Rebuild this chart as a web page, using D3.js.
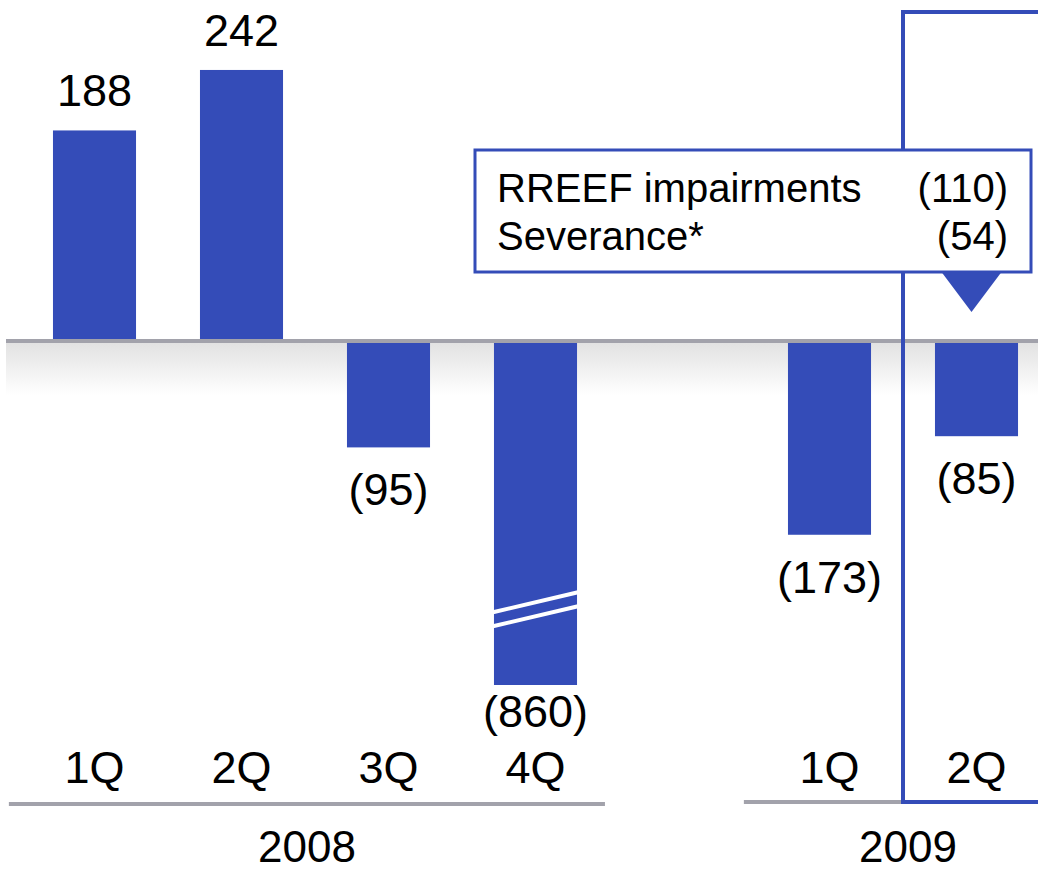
<!DOCTYPE html>
<html>
<head>
<meta charset="utf-8">
<script src="https://cdn.jsdelivr.net/npm/d3@7"></script>
<style>
  body { margin: 0; background: #fff; }
  svg text { font-family: "Liberation Sans", Arial, sans-serif; fill: #000; }
</style>
</head>
<body>
<svg width="1038" height="870"></svg>
<script>
// quarterly values (EUR m), brackets = negative
var quarters = ['1Q', '2Q', '3Q', '4Q', '1Q', '2Q'];
var years = ['2008', '2008', '2008', '2008', '2009', '2009'];
var values = [188, 242, -95, -860, -173, -85];
var yearLabels = ['2008', '2009'];
var noteLabels = ['RREEF impairments', 'Severance*'];
var noteValues = [-110, -54];

var blue = '#344cb8';
var grey = '#a2a2ab';

var svg = d3.select('svg');
var svgWidth = +svg.attr('width');

// one key per bar, plus an empty slot between the two years
var keys = quarters.map(function(q, i) { return years[i] + ' ' + q; });
var slots = keys.slice(0, 4).concat(['gap']).concat(keys.slice(4));

var x = d3.scaleBand()
    .domain(slots)
    .range([21, 1050])
    .paddingInner(0.435)
    .paddingOuter(0.2175);

// broken axis: below -200 the scale is squeezed so 4Q fits
var y = d3.scaleLinear()
    .domain([-860, -200, 300])
    .range([685, 565, 5]);

var fmt = function(v) { return v < 0 ? '(' + Math.abs(v) + ')' : '' + v; };

var data = values.map(function(v, i) {
    return {key: keys[i], q: quarters[i], year: years[i], value: v};
});

// soft shadow under the zero line
var defs = svg.append('defs');
var grad = defs.append('linearGradient')
    .attr('id', 'shade').attr('x1', 0).attr('y1', 0).attr('x2', 0).attr('y2', 1);
grad.append('stop').attr('offset', '0%').attr('stop-color', '#e2e2e2');
grad.append('stop').attr('offset', '100%').attr('stop-color', '#ffffff');

svg.append('rect')
    .attr('x', 6).attr('y', y(0) + 2)
    .attr('width', svgWidth - 6).attr('height', 52)
    .attr('fill', 'url(#shade)');

// bars
svg.selectAll('.bar')
    .data(data)
    .enter()
    .append('rect')
    .attr('class', 'bar')
    .attr('x', function(d) { return x(d.key); })
    .attr('width', x.bandwidth())
    .attr('y', function(d) { return d.value > 0 ? y(d.value) : y(0) + 2; })
    .attr('height', function(d) {
        return d.value > 0 ? y(0) - 1 - y(d.value) : y(d.value) - y(0) - 2;
    })
    .attr('fill', blue);

// break marks on the squeezed bar
var broken = data.filter(function(d) { return d.value < -200; });
broken.forEach(function(d) {
    var yb = y(0) + 0.78 * (y(d.value) - y(0));
    [-7, 7].forEach(function(off) {
        svg.append('line')
            .attr('x1', x(d.key) - 1).attr('y1', yb + off + 10)
            .attr('x2', x(d.key) + x.bandwidth() + 1).attr('y2', yb + off - 10)
            .attr('stroke', '#fff').attr('stroke-width', 4);
    });
});

// zero line
svg.append('line')
    .attr('x1', 6).attr('x2', svgWidth)
    .attr('y1', y(0)).attr('y2', y(0))
    .attr('stroke', grey).attr('stroke-width', 4);

// value labels
var catBase = 783;
svg.selectAll('.val')
    .data(data)
    .enter()
    .append('text')
    .attr('class', 'val')
    .attr('x', function(d) { return x(d.key) + x.bandwidth() / 2; })
    .attr('y', function(d) {
        return d.value > 0 ? y(d.value) - 24 : Math.min(y(d.value) + 58, catBase - 56);
    })
    .attr('text-anchor', 'middle')
    .style('font-size', '45px')
    .text(function(d) { return fmt(d.value); });

// quarter labels
svg.selectAll('.cat')
    .data(data)
    .enter()
    .append('text')
    .attr('class', 'cat')
    .attr('x', function(d) { return x(d.key) + x.bandwidth() / 2; })
    .attr('y', catBase)
    .attr('text-anchor', 'middle')
    .style('font-size', '45px')
    .text(function(d) { return d.q; });

// year group lines and labels
var step = x.step();
yearLabels.forEach(function(yr) {
    var ks = keys.filter(function(k, i) { return years[i] === yr; });
    var x0 = x(ks[0]) - step * 0.3;
    var x1 = x(ks[ks.length - 1]) + x.bandwidth() + step * 0.19;
    var ly = yr === '2008' ? 804 : 802;
    svg.append('line')
        .attr('x1', x0).attr('x2', x1)
        .attr('y1', ly).attr('y2', ly)
        .attr('stroke', grey).attr('stroke-width', 4);
    svg.append('text')
        .attr('x', yr === '2008' ? (x0 + x1) / 2 : x(ks[0]) + x.bandwidth() + (step - x.bandwidth()) / 2 + 5)
        .attr('y', 862)
        .attr('text-anchor', 'middle')
        .style('font-size', '44px')
        .text(yr);
});

// highlight frame round the latest quarter
var lastKey = keys[keys.length - 1];
var frameX = x(lastKey) - (step - x.bandwidth()) / 2;
svg.append('path')
    .attr('d', 'M' + (svgWidth + 10) + ',12 H' + frameX + ' V802 H' + (svgWidth + 10))
    .attr('fill', 'none')
    .attr('stroke', blue)
    .attr('stroke-width', 4);

// call-out box
var box = {x: 475, y: 150, w: 556, h: 122};
var cx = x(lastKey) + x.bandwidth() / 2 - 5;
svg.append('path')
    .attr('d', 'M' + (cx - 30) + ',' + (box.y + box.h) + ' L' + (cx + 30) + ',' + (box.y + box.h) +
        ' L' + cx + ',' + (box.y + box.h + 40) + 'Z')
    .attr('fill', blue);
svg.append('rect')
    .attr('x', box.x).attr('y', box.y)
    .attr('width', box.w).attr('height', box.h)
    .attr('fill', '#fff')
    .attr('stroke', blue)
    .attr('stroke-width', 3);

noteLabels.forEach(function(t, i) {
    var by = 202 + i * 48;
    svg.append('text')
        .attr('x', box.x + 22).attr('y', by)
        .style('font-size', '40px')
        .text(t);
    svg.append('text')
        .attr('x', box.x + box.w - 23).attr('y', by)
        .attr('text-anchor', 'end')
        .style('font-size', '40px')
        .text(fmt(noteValues[i]));
});
</script>
</body>
</html>
